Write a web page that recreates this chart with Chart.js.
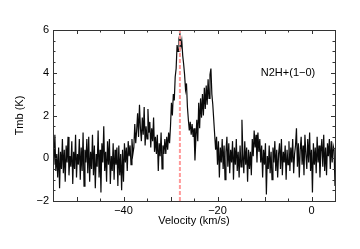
<!DOCTYPE html>
<html>
<head>
<meta charset="utf-8">
<script src="https://cdn.jsdelivr.net/npm/chart.js@4"></script>
<style>
html,body{margin:0;padding:0;background:#fff;}
canvas{display:block;}
</style>
</head>
<body>
<canvas id="c" width="360" height="249"></canvas>
<script>
const velocity = [
-55,-54.8,-54.6,-54.4,-54.2,-54,-53.8,-53.6,-53.4,-53.2,
-53,-52.8,-52.6,-52.4,-52.2,-52,-51.8,-51.6,-51.4,-51.2,
-51,-50.8,-50.6,-50.4,-50.2,-50,-49.8,-49.6,-49.4,-49.2,
-49,-48.8,-48.6,-48.4,-48.2,-48,-47.8,-47.6,-47.4,-47.2,
-47,-46.8,-46.6,-46.4,-46.2,-46,-45.8,-45.6,-45.4,-45.2,
-45,-44.8,-44.6,-44.4,-44.2,-44,-43.8,-43.6,-43.4,-43.2,
-43,-42.8,-42.6,-42.4,-42.2,-42,-41.8,-41.6,-41.4,-41.2,
-41,-40.8,-40.6,-40.4,-40.2,-40,-39.8,-39.6,-39.4,-39.2,
-39,-38.8,-38.6,-38.4,-38.2,-38,-37.8,-37.6,-37.4,-37.2,
-37,-36.8,-36.6,-36.4,-36.2,-36,-35.8,-35.6,-35.4,-35.2,
-35,-34.8,-34.6,-34.4,-34.2,-34,-33.8,-33.6,-33.4,-33.2,
-33,-32.8,-32.6,-32.4,-32.2,-32,-31.8,-31.6,-31.4,-31.2,
-31,-30.8,-30.6,-30.4,-30.2,-30,-29.8,-29.6,-29.4,-29.2,
-29,-28.8,-28.6,-28.4,-28.2,-28,-27.8,-27.6,-27.4,-27.2,
-27,-26.8,-26.6,-26.4,-26.2,-26,-25.8,-25.6,-25.4,-25.2,
-25,-24.8,-24.6,-24.4,-24.2,-24,-23.8,-23.6,-23.4,-23.2,
-23,-22.8,-22.6,-22.4,-22.2,-22,-21.8,-21.6,-21.4,-21.2,
-21,-20.8,-20.6,-20.4,-20.2,-20,-19.8,-19.6,-19.4,-19.2,
-19,-18.8,-18.6,-18.4,-18.2,-18,-17.8,-17.6,-17.4,-17.2,
-17,-16.8,-16.6,-16.4,-16.2,-16,-15.8,-15.6,-15.4,-15.2,
-15,-14.8,-14.6,-14.4,-14.2,-14,-13.8,-13.6,-13.4,-13.2,
-13,-12.8,-12.6,-12.4,-12.2,-12,-11.8,-11.6,-11.4,-11.2,
-11,-10.8,-10.6,-10.4,-10.2,-10,-9.8,-9.6,-9.4,-9.2,
-9,-8.8,-8.6,-8.4,-8.2,-8,-7.8,-7.6,-7.4,-7.2,
-7,-6.8,-6.6,-6.4,-6.2,-6,-5.8,-5.6,-5.4,-5.2,
-5,-4.8,-4.6,-4.4,-4.2,-4,-3.8,-3.6,-3.4,-3.2,
-3,-2.8,-2.6,-2.4,-2.2,-2,-1.8,-1.6,-1.4,-1.2,
-1,-0.8,-0.6,-0.4,-0.2,0,0.2,0.4,0.6,0.8,
1,1.2,1.4,1.6,1.8,2,2.2,2.4,2.6,2.8,
3,3.2,3.4,3.6,3.8,4,4.2,4.4,4.6,4.8,
5
];
const tmb = [
0.7,-0.3,1.1,-0.6,0.2,-0.9,0.5,-1.4,0.3,-0.5,
0.9,-0.7,0.4,-1.1,0.6,-0.2,1.0,-0.8,0.1,-0.4,
0.8,-1.2,0.3,-0.5,1.1,-0.9,0.2,-0.3,0.9,-1.0,
0.5,-0.6,1.2,-1.3,0.4,-0.2,0.9,-0.7,1.0,-1.1,
0.3,-0.5,1.1,-0.8,0.6,-1.4,0.2,-0.4,1.3,-0.9,
0.4,-1.6,0.7,-0.2,1.5,-0.6,0.3,-1.1,0.8,-0.3,
0.9,-1.2,0.1,-0.6,0.7,-1.0,0.4,-0.3,0.5,-1.3,
0.6,-0.8,0.2,-1.5,0.4,-1.1,0.7,-0.2,0.5,-0.6,
0.8,0.1,0.6,-0.3,0.9,0.2,0.5,1.6,0.7,1.3,
2.1,1.0,2.5,1.4,0.8,1.9,1.1,2.4,0.6,1.5,
0.9,2.3,1.2,1.7,0.5,1.4,0.8,1.9,0.3,1.0,
0.2,1.1,-0.6,0.7,0.1,1.2,-0.5,0.6,0.2,0.9,
0.2,1.0,0.4,1.2,0.7,1.5,2.6,2.0,3.0,2.7,
3.8,4.2,5.3,5.0,5.6,5.8,5.2,5.5,4.8,4.4,
3.9,3.2,3.5,2.4,1.8,1.3,1.7,1.1,1.6,1.0,
1.4,-0.1,0.9,1.8,0.8,2.6,1.4,2.8,1.9,3.0,
2.0,3.3,2.3,3.4,2.5,3.7,2.8,3.9,4.2,3.0,
2.5,1.8,1.1,0.4,1.0,-0.3,0.8,-0.9,0.5,-0.2,
0.9,-0.5,0.6,-1.0,0.3,1.0,-0.4,0.7,-0.7,0.4,
-0.2,0.8,-1.0,0.5,-0.3,0.9,-0.6,0.3,-0.9,0.6,
-0.4,1.8,0.2,-0.7,0.8,-0.3,0.5,-1.1,0.4,-0.5,
0.3,-0.8,0.9,0.1,1.3,0.5,1.1,-0.2,1.2,0.3,
0.9,-0.2,0.6,-0.9,0.4,-0.3,0.7,-1.7,0.1,-0.5,
0.6,-0.7,0.3,-1.0,0.5,-0.2,0.8,-0.6,0.4,-0.9,
0.2,0.7,-0.5,0.9,-0.8,0.3,-0.2,0.6,-1.0,0.4,
-0.3,0.8,-0.6,0.5,-0.2,0.9,-0.7,0.2,0.6,1.4,
-0.4,0.7,-0.9,0.4,1.0,-0.3,0.6,-0.8,1.1,0.2,
-0.5,0.9,-0.2,1.2,-0.6,0.4,-1.6,0.7,-0.3,0.5,
-0.7,1.0,-0.2,0.6,-0.9,0.3,0.9,-0.4,1.1,-0.6,
0.5,-0.8,0.7,0.1,0.9,-0.5,0.8,-0.2,0.6,0.4,
-1.3
];
const refVelocity = -28.0;
const xRange = [-55, 5];
const yRange = [-2, 6];
const xTickLabels = [-40, -20, 0];
const yTickLabels = [-2, 0, 2, 4, 6];
const lineLabel = 'N2H+(1\u22120)';
const lineLabelPos = [-5, 4];

const FONT = 'Liberation Sans, Arial, Helvetica, sans-serif';

const framePlugin = {
  id: 'frame',
  afterDatasetsDraw(chart) {
    const {ctx, chartArea: a, scales: {x, y}} = chart;
    ctx.save();
    ctx.strokeStyle = '#333';
    ctx.lineWidth = 1;
    ctx.strokeRect(Math.round(a.left) + 0.5, Math.round(a.top) + 0.5,
                   Math.round(a.right - a.left), Math.round(a.bottom - a.top));
    ctx.beginPath();
    for (let v = -55; v <= 5.001; v += 5) {
      const px = Math.round(x.getPixelForValue(v)) + 0.5;
      const len = (Math.round(v) % 10 === 0) ? 4 : 2.5;
      ctx.moveTo(px, a.bottom); ctx.lineTo(px, a.bottom - len);
      ctx.moveTo(px, a.top); ctx.lineTo(px, a.top + len);
    }
    for (let k = -4; k <= 12; k++) {
      const v = k * 0.5;
      const py = Math.round(y.getPixelForValue(v)) + 0.5;
      const len = (k % 4 === 0) ? 4 : 2.5;
      ctx.moveTo(a.left, py); ctx.lineTo(a.left + len, py);
      ctx.moveTo(a.right, py); ctx.lineTo(a.right - len, py);
    }
    ctx.stroke();
    ctx.fillStyle = '#000';
    ctx.font = '11px ' + FONT;
    ctx.textAlign = 'center';
    ctx.textBaseline = 'middle';
    ctx.fillText(lineLabel, x.getPixelForValue(lineLabelPos[0]), y.getPixelForValue(lineLabelPos[1]));
    ctx.restore();
  }
};

const minusFmt = v => String(v).replace('-', '\u2212');

new Chart(document.getElementById('c'), {
  type: 'line',
  data: {
    datasets: [
      {
        data: [{x: refVelocity, y: yRange[0]}, {x: refVelocity, y: yRange[1]}],
        borderColor: '#ff9a9a',
        borderWidth: 2,
        borderDash: [4, 2],
        pointRadius: 0,
        order: 0
      },
      {
        data: velocity.map((v, i) => ({x: v, y: tmb[i]})),
        borderColor: '#0a0a0a',
        borderWidth: 1.2,
        pointRadius: 0,
        tension: 0,
        order: 1
      }
    ]
  },
  options: {
    responsive: false,
    animation: false,
    devicePixelRatio: 1,
    layout: {padding: {top: 30, right: 25, left: 0, bottom: 0}},
    plugins: {legend: {display: false}, tooltip: {enabled: false}},
    scales: {
      x: {
        type: 'linear',
        min: xRange[0], max: xRange[1],
        grid: {display: false, drawTicks: false},
        border: {display: false},
        afterBuildTicks: s => { s.ticks = xTickLabels.map(v => ({value: v})); },
        afterFit: s => { s.height = 48; },
        ticks: {
          padding: 3,
          maxRotation: 0,
          color: '#000',
          font: {family: FONT, size: 11},
          callback: minusFmt
        },
        title: {
          display: true,
          text: 'Velocity (km/s)',
          color: '#000',
          font: {family: FONT, size: 11},
          padding: {top: 0, bottom: 21}
        }
      },
      y: {
        type: 'linear',
        min: yRange[0], max: yRange[1],
        grid: {display: false, drawTicks: false},
        border: {display: false},
        afterBuildTicks: s => { s.ticks = yTickLabels.map(v => ({value: v})); },
        afterFit: s => { s.width = 53; },
        ticks: {
          padding: 4,
          color: '#000',
          font: {family: FONT, size: 11},
          callback: minusFmt
        },
        title: {
          display: true,
          text: 'Tmb (K)',
          color: '#000',
          font: {family: FONT, size: 11},
          padding: {top: 13, bottom: 0}
        }
      }
    }
  },
  plugins: [framePlugin]
});
</script>
</body>
</html>
